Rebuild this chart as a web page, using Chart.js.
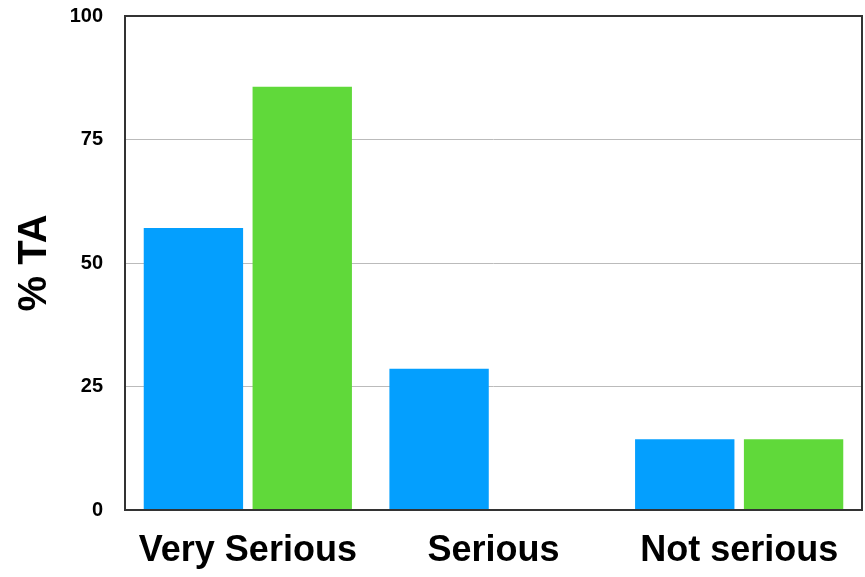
<!DOCTYPE html>
<html><head><meta charset="utf-8">
<script src="https://cdn.jsdelivr.net/npm/chart.js@4.4.1/dist/chart.umd.min.js"></script>
<style>html,body{margin:0;padding:0;background:#fff}canvas{display:block}</style>
</head><body>
<canvas id="c" width="865" height="577"></canvas>
<script>
const categories = ["Very Serious", "Serious", "Not serious"];
const seriesA = [57.1, 28.6, 14.3];
const seriesB = [85.7, 0, 14.3];
const yTicks = [0, 25, 50, 75, 100];

const frame = {
  id: 'frame',
  afterDraw(chart) {
    const a = chart.chartArea, ctx = chart.ctx;
    ctx.save();
    ctx.strokeStyle = '#333';
    ctx.lineWidth = 2;
    ctx.strokeRect(a.left, a.top, a.right - a.left, a.bottom - a.top);
    ctx.restore();
  }
};

new Chart(document.getElementById('c'), {
  type: 'bar',
  data: {
    labels: categories,
    datasets: [
      { data: seriesA, backgroundColor: '#049ffe', borderWidth: 0 },
      { data: seriesB, backgroundColor: '#60d93a', borderWidth: 0 }
    ]
  },
  options: {
    responsive: false,
    animation: false,
    devicePixelRatio: 1,
    layout: { padding: { top: 16, right: 3, left: 0, bottom: 0 } },
    plugins: { legend: { display: false }, tooltip: { enabled: false } },
    datasets: { bar: { categoryPercentage: 0.886, barPercentage: 0.913 } },
    scales: {
      x: {
        grid: { display: false, drawTicks: false },
        border: { display: false },
        ticks: { color: '#000', padding: 19, font: { family: 'Liberation Sans', size: 36, weight: 'bold' } },
        afterFit(s) { s.height = 67; s.paddingLeft = 0; s.paddingRight = 0; }
      },
      y: {
        min: 0, max: 100,
        afterBuildTicks(s) { s.ticks = yTicks.map(v => ({ value: v })); },
        grid: { color: '#bbb', lineWidth: 1, drawTicks: false },
        border: { display: false },
        ticks: { color: '#000', padding: 22, font: { family: 'Liberation Sans', size: 20, weight: 'bold' } },
        title: { display: true, text: '% TA', color: '#000', padding: { top: 11, bottom: 0 }, font: { family: 'Liberation Sans', size: 40, weight: 'bold' } },
        afterFit(s) { s.width = 125; s.paddingTop = 0; s.paddingBottom = 0; }
      }
    }
  },
  plugins: [frame]
});
</script>
</body></html>
